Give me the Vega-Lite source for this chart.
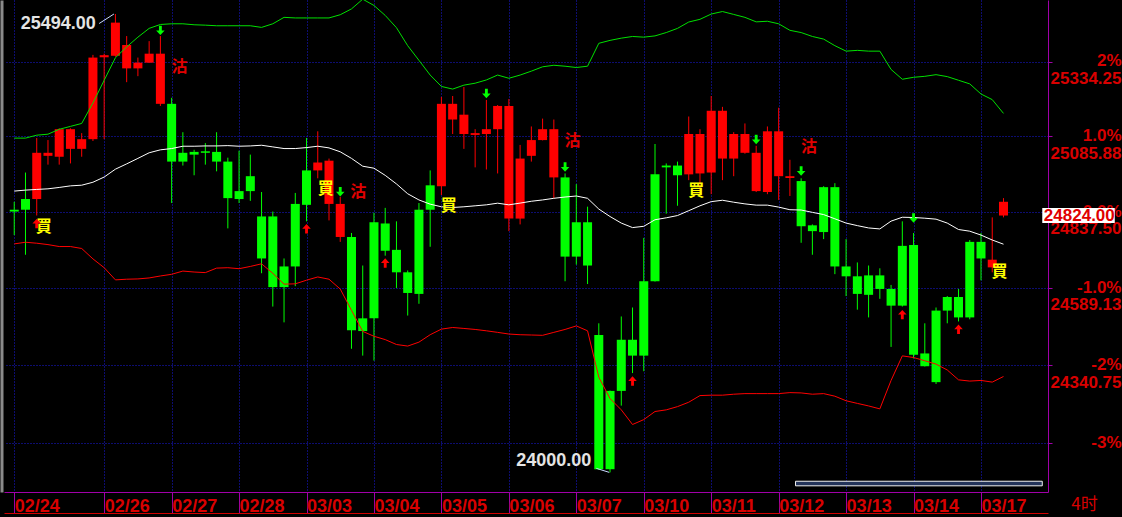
{
"$schema": "https://vega.github.io/schema/vega-lite/v6.json",
"width": 1044, "height": 492,
"autosize": {"type": "none"},
"padding": {"left": 4, "top": 0, "right": 74, "bottom": 25},
"background": "#000000",
"config": {"view": {"stroke": null}},
"datasets": {
"candles": [
{"i":0,"o":24845,"h":24871,"l":24762,"c":24839},
{"i":1,"o":24880,"h":24967,"l":24698,"c":24845},
{"i":2,"o":24880,"h":25081,"l":24826,"c":25032},
{"i":3,"o":25022,"h":25074,"l":24993,"c":25032},
{"i":4,"o":25019,"h":25113,"l":24993,"c":25110},
{"i":5,"o":25045,"h":25113,"l":24997,"c":25110},
{"i":6,"o":25045,"h":25097,"l":25019,"c":25077},
{"i":7,"o":25077,"h":25357,"l":25071,"c":25348},
{"i":8,"o":25349,"h":25361,"l":25077,"c":25356},
{"i":9,"o":25354,"h":25494,"l":25351,"c":25465},
{"i":10,"o":25312,"h":25420,"l":25266,"c":25390},
{"i":11,"o":25312,"h":25348,"l":25286,"c":25331},
{"i":12,"o":25331,"h":25403,"l":25330,"c":25361},
{"i":13,"o":25194,"h":25420,"l":25187,"c":25361},
{"i":14,"o":25194,"h":25214,"l":24867,"c":25003},
{"i":15,"o":25032,"h":25100,"l":24990,"c":25003},
{"i":16,"o":25035,"h":25042,"l":24958,"c":25026},
{"i":17,"o":25037,"h":25064,"l":24993,"c":25032},
{"i":18,"o":25035,"h":25100,"l":24971,"c":25003},
{"i":19,"o":25003,"h":25016,"l":24784,"c":24883},
{"i":20,"o":24906,"h":25039,"l":24867,"c":24880},
{"i":21,"o":24955,"h":25026,"l":24874,"c":24906},
{"i":22,"o":24823,"h":24903,"l":24638,"c":24686},
{"i":23,"o":24823,"h":24839,"l":24530,"c":24593},
{"i":24,"o":24660,"h":24686,"l":24479,"c":24593},
{"i":25,"o":24864,"h":24900,"l":24596,"c":24660},
{"i":26,"o":24974,"h":25081,"l":24807,"c":24861},
{"i":27,"o":24974,"h":25103,"l":24948,"c":25000},
{"i":28,"o":24864,"h":25013,"l":24810,"c":25006},
{"i":29,"o":24756,"h":24887,"l":24740,"c":24864},
{"i":30,"o":24756,"h":24769,"l":24394,"c":24454},
{"i":31,"o":24492,"h":24663,"l":24372,"c":24451},
{"i":32,"o":24804,"h":24835,"l":24356,"c":24492},
{"i":33,"o":24800,"h":24851,"l":24695,"c":24711},
{"i":34,"o":24714,"h":24807,"l":24590,"c":24641},
{"i":35,"o":24641,"h":24647,"l":24501,"c":24574},
{"i":36,"o":24845,"h":24867,"l":24539,"c":24571},
{"i":37,"o":24925,"h":24974,"l":24724,"c":24845},
{"i":38,"o":24922,"h":25217,"l":24893,"c":25194},
{"i":39,"o":25142,"h":25220,"l":25094,"c":25194},
{"i":40,"o":25094,"h":25250,"l":25045,"c":25158},
{"i":41,"o":25091,"h":25110,"l":24984,"c":25097},
{"i":42,"o":25094,"h":25207,"l":24977,"c":25110},
{"i":43,"o":25110,"h":25190,"l":24964,"c":25187},
{"i":44,"o":24816,"h":25210,"l":24775,"c":25187},
{"i":45,"o":24816,"h":25058,"l":24797,"c":25013},
{"i":46,"o":25022,"h":25119,"l":25003,"c":25074},
{"i":47,"o":25074,"h":25145,"l":25073,"c":25110},
{"i":48,"o":24951,"h":25142,"l":24883,"c":25110},
{"i":49,"o":24951,"h":24964,"l":24612,"c":24692},
{"i":50,"o":24804,"h":24929,"l":24666,"c":24692},
{"i":51,"o":24804,"h":24855,"l":24603,"c":24663},
{"i":52,"o":24438,"h":24476,"l":24008,"c":24010},
{"i":53,"o":24259,"h":24260,"l":24000,"c":24010},
{"i":54,"o":24423,"h":24498,"l":24212,"c":24259},
{"i":55,"o":24423,"h":24527,"l":24316,"c":24372},
{"i":56,"o":24612,"h":24753,"l":24322,"c":24372},
{"i":57,"o":24961,"h":25061,"l":24611,"c":24612},
{"i":58,"o":24990,"h":24997,"l":24832,"c":24984},
{"i":59,"o":24990,"h":25003,"l":24858,"c":24958},
{"i":60,"o":24961,"h":25152,"l":24942,"c":25094},
{"i":61,"o":24964,"h":25110,"l":24896,"c":25094},
{"i":62,"o":24967,"h":25220,"l":24896,"c":25171},
{"i":63,"o":25013,"h":25184,"l":24942,"c":25171},
{"i":64,"o":25013,"h":25100,"l":24955,"c":25094},
{"i":65,"o":25032,"h":25129,"l":25029,"c":25094},
{"i":66,"o":24906,"h":25055,"l":24903,"c":25032},
{"i":67,"o":24903,"h":25119,"l":24896,"c":25103},
{"i":68,"o":24955,"h":25181,"l":24877,"c":25103},
{"i":69,"o":24949,"h":25009,"l":24890,"c":24955},
{"i":70,"o":24939,"h":24948,"l":24737,"c":24791},
{"i":71,"o":24794,"h":24797,"l":24698,"c":24775},
{"i":72,"o":24919,"h":24922,"l":24749,"c":24772},
{"i":73,"o":24919,"h":24932,"l":24635,"c":24660},
{"i":74,"o":24660,"h":24749,"l":24564,"c":24628},
{"i":75,"o":24628,"h":24673,"l":24520,"c":24571},
{"i":76,"o":24631,"h":24663,"l":24495,"c":24568},
{"i":77,"o":24631,"h":24654,"l":24555,"c":24587},
{"i":78,"o":24587,"h":24600,"l":24400,"c":24533},
{"i":79,"o":24727,"h":24807,"l":24530,"c":24533},
{"i":80,"o":24730,"h":24769,"l":24363,"c":24375},
{"i":81,"o":24379,"h":24476,"l":24337,"c":24338},
{"i":82,"o":24517,"h":24527,"l":24281,"c":24287},
{"i":83,"o":24561,"h":24564,"l":24476,"c":24517},
{"i":84,"o":24561,"h":24587,"l":24482,"c":24495},
{"i":85,"o":24740,"h":24746,"l":24489,"c":24495},
{"i":86,"o":24740,"h":24769,"l":24615,"c":24686},
{"i":87,"o":24657,"h":24820,"l":24641,"c":24682},
{"i":88,"o":24826,"h":24883,"l":24820,"c":24871}
],
"bands": [
{"i":0,"u":25080.5,"m":24906.0,"lo":24733.4},
{"i":1,"u":25080.5,"m":24909.3,"lo":24738.8},
{"i":2,"u":25090.2,"m":24911.5,"lo":24735.6},
{"i":3,"u":25093.5,"m":24913.5,"lo":24731.1},
{"i":4,"u":25109.6,"m":24918.0,"lo":24724.8},
{"i":5,"u":25119.3,"m":24923.2,"lo":24724.8},
{"i":6,"u":25129.0,"m":24925.4,"lo":24718.4},
{"i":7,"u":25197.0,"m":24935.1,"lo":24684.6},
{"i":8,"u":25272.4,"m":24952.2,"lo":24655.9},
{"i":9,"u":25347.6,"m":24978.1,"lo":24616.4},
{"i":10,"u":25383.6,"m":24995.5,"lo":24618.6},
{"i":11,"u":25416.3,"m":25013.6,"lo":24619.5},
{"i":12,"u":25445.7,"m":25032.1,"lo":24622.7},
{"i":13,"u":25458.8,"m":25041.8,"lo":24629.1},
{"i":14,"u":25461.1,"m":25046.0,"lo":24634.5},
{"i":15,"u":25461.1,"m":25053.7,"lo":24645.0},
{"i":16,"u":25457.8,"m":25053.7,"lo":24641.9},
{"i":17,"u":25456.5,"m":25054.7,"lo":24640.0},
{"i":18,"u":25454.5,"m":25054.7,"lo":24654.6},
{"i":19,"u":25454.5,"m":25055.7,"lo":24655.9},
{"i":20,"u":25454.5,"m":25053.7,"lo":24652.7},
{"i":21,"u":25454.5,"m":25054.7,"lo":24660.0},
{"i":22,"u":25449.0,"m":25056.9,"lo":24668.6},
{"i":23,"u":25461.1,"m":25051.5,"lo":24637.7},
{"i":24,"u":25482.7,"m":25046.0,"lo":24602.6},
{"i":25,"u":25480.7,"m":25046.0,"lo":24603.6},
{"i":26,"u":25480.7,"m":25049.2,"lo":24615.4},
{"i":27,"u":25480.7,"m":25053.7,"lo":24625.9},
{"i":28,"u":25480.7,"m":25048.2,"lo":24618.6},
{"i":29,"u":25491.5,"m":25035.3,"lo":24586.7},
{"i":30,"u":25511.1,"m":25013.6,"lo":24518.0},
{"i":31,"u":25543.8,"m":24987.8,"lo":24449.9},
{"i":32,"u":25522.6,"m":24981.3,"lo":24434.2},
{"i":33,"u":25489.2,"m":24957.7,"lo":24423.5},
{"i":34,"u":25448.0,"m":24929.6,"lo":24407.7},
{"i":35,"u":25387.8,"m":24897.3,"lo":24402.7},
{"i":36,"u":25338.8,"m":24877.0,"lo":24415.3},
{"i":37,"u":25289.7,"m":24863.2,"lo":24439.2},
{"i":38,"u":25251.8,"m":24854.6,"lo":24457.2},
{"i":39,"u":25243.0,"m":24852.3,"lo":24462.5},
{"i":40,"u":25256.1,"m":24854.6,"lo":24459.4},
{"i":41,"u":25262.6,"m":24857.8,"lo":24456.2},
{"i":42,"u":25273.4,"m":24861.0,"lo":24451.8},
{"i":43,"u":25289.7,"m":24866.4,"lo":24446.8},
{"i":44,"u":25279.0,"m":24861.0,"lo":24441.4},
{"i":45,"u":25289.7,"m":24866.7,"lo":24439.2},
{"i":46,"u":25302.8,"m":24872.7,"lo":24438.3},
{"i":47,"u":25317.2,"m":24877.0,"lo":24437.3},
{"i":48,"u":25322.4,"m":24882.4,"lo":24446.8},
{"i":49,"u":25319.2,"m":24886.6,"lo":24456.2},
{"i":50,"u":25314.9,"m":24889.9,"lo":24467.6},
{"i":51,"u":25319.2,"m":24882.4,"lo":24451.8},
{"i":52,"u":25395.7,"m":24847.2,"lo":24302.9},
{"i":53,"u":25405.5,"m":24822.7,"lo":24234.6},
{"i":54,"u":25413.0,"m":24801.3,"lo":24198.5},
{"i":55,"u":25418.6,"m":24786.6,"lo":24151.8},
{"i":56,"u":25416.3,"m":24790.8,"lo":24167.4},
{"i":57,"u":25420.5,"m":24812.2,"lo":24193.2},
{"i":58,"u":25431.7,"m":24818.5,"lo":24198.5},
{"i":59,"u":25445.7,"m":24825.9,"lo":24208.8},
{"i":60,"u":25467.0,"m":24841.8,"lo":24222.8},
{"i":61,"u":25476.1,"m":24857.8,"lo":24244.0},
{"i":62,"u":25493.8,"m":24871.5,"lo":24245.3},
{"i":63,"u":25502.3,"m":24876.0,"lo":24245.3},
{"i":64,"u":25492.5,"m":24869.6,"lo":24248.4},
{"i":65,"u":25482.7,"m":24864.1,"lo":24250.3},
{"i":66,"u":25467.6,"m":24860.0,"lo":24250.3},
{"i":67,"u":25469.6,"m":24860.0,"lo":24250.3},
{"i":68,"u":25461.1,"m":24853.6,"lo":24250.3},
{"i":69,"u":25439.2,"m":24845.0,"lo":24253.5},
{"i":70,"u":25431.7,"m":24844.0,"lo":24252.5},
{"i":71,"u":25418.6,"m":24836.4,"lo":24248.4},
{"i":72,"u":25409.8,"m":24829.1,"lo":24250.3},
{"i":73,"u":25387.8,"m":24815.3,"lo":24242.1},
{"i":74,"u":25369.5,"m":24801.3,"lo":24227.5},
{"i":75,"u":25372.1,"m":24793.0,"lo":24219.1},
{"i":76,"u":25369.5,"m":24785.4,"lo":24211.0},
{"i":77,"u":25369.5,"m":24782.2,"lo":24201.6},
{"i":78,"u":25308.4,"m":24807.7,"lo":24292.5},
{"i":79,"u":25275.7,"m":24820.4,"lo":24371.2},
{"i":80,"u":25282.2,"m":24819.5,"lo":24365.9},
{"i":81,"u":25285.5,"m":24817.3,"lo":24355.5},
{"i":82,"u":25291.0,"m":24814.1,"lo":24344.8},
{"i":83,"u":25284.5,"m":24801.3,"lo":24325.9},
{"i":84,"u":25272.4,"m":24780.3,"lo":24294.4},
{"i":85,"u":25260.3,"m":24774.8,"lo":24290.4},
{"i":86,"u":25226.6,"m":24762.1,"lo":24292.5},
{"i":87,"u":25208.0,"m":24746.1,"lo":24287.1},
{"i":88,"u":25162.3,"m":24732.4,"lo":24305.1}
],
"down": [{"i":13,"p":25439},{"i":29,"p":24904},{"i":42,"p":25228},{"i":49,"p":24985},{"i":66,"p":25076},{"i":70,"p":24972},{"i":80,"p":24818}],
"up": [{"i":2,"p":24800},{"i":26,"p":24783},{"i":33,"p":24671},{"i":55,"p":24291},{"i":79,"p":24504},{"i":84,"p":24457}],
"buy": [{"i":2.62,"p":24788},{"i":27.7,"p":24912},{"i":38.65,"p":24858},{"i":60.68,"p":24906},{"i":87.64,"p":24642}],
"sell": [{"i":14.69,"p":25318},{"i":30.6,"p":24903},{"i":49.66,"p":25071},{"i":70.7,"p":25052}]
},
"layer": [
{
"data": {"name": "candles"},
"mark": {"type": "rule", "strokeWidth": 1},
"encoding": {
"x": {"field": "i", "type": "quantitative", "scale": {"domain": [-0.467, 91.515], "nice": false, "zero": false},
"axis": {"orient": "bottom", "values": [0,8,14,20,26,32,38,44,50,56,62,68,74,80,86],
"labelExpr": "['02/24','02/26','02/27','02/28','03/03','03/04','03/05','03/06','03/07','03/10','03/11','03/12','03/13','03/14','03/17'][indexof([0,8,14,20,26,32,38,44,50,56,62,68,74,80,86], datum.value)]",
"domainColor": "#a000a8", "tickColor": "#a000a8", "tickSize": 21, "grid": true, "gridColor": "#1a1ae0", "gridDash": [1, 2],
"labelColor": "#d80000", "labelFont": "Liberation Sans", "labelFontWeight": "bold", "labelFontSize": 18,
"labelAlign": "left", "labelBaseline": "middle", "labelPadding": -7, "labelOffset": 0,
"labelFlush": false, "labelOverlap": false, "labelBound": false, "title": null}},
"y": {"field": "l", "type": "quantitative", "scale": {"type": "log", "domain": [23953.8, 25524.2], "nice": false, "zero": false},
"axis": {"orient": "right", "values": [25334.25, 25085.875, 24837.5, 24589.125, 24340.75, 24092.375],
"labelExpr": "datum.value > 25300 ? ['2%','25334.25'] : datum.value > 25000 ? ['1.0%','25085.88'] : datum.value > 24800 ? ['0.0%','24837.50'] : datum.value > 24500 ? ['-1.0%','24589.13'] : datum.value > 24200 ? ['-2%','24340.75'] : '-3%'",
"domainColor": "#a000a8", "tickColor": "#a000a8", "tickSize": 4, "grid": true, "gridColor": "#1a1ae0", "gridDash": [1, 2],
"labelColor": "#d80000", "labelFont": "Liberation Sans", "labelFontWeight": "bold", "labelFontSize": 17,
"labelAlign": "right", "labelBaseline": "top", "labelPadding": 69, "labelOffset": -9, "labelLineHeight": 17.7,
"labelFlush": false, "labelOverlap": false, "labelBound": false,
"title": "4时", "titleAngle": 0, "titleX": 36, "titleY": 504, "titleAlign": "center", "titleBaseline": "middle",
"titleColor": "#d80000", "titleFont": "Noto Sans CJK SC", "titleFontSize": 17, "titleFontWeight": "normal"}},
"y2": {"field": "h"},
"color": {"condition": {"test": "datum.c >= datum.o", "value": "#ff0000"}, "value": "#00ff00"}
}
},
{
"data": {"name": "candles"},
"mark": {"type": "bar", "width": 9},
"encoding": {
"x": {"field": "i", "type": "quantitative", "scale": {"domain": [-0.467, 91.515], "nice": false, "zero": false}, "axis": null},
"y": {"field": "o", "type": "quantitative", "scale": {"type": "log", "domain": [23953.8, 25524.2], "nice": false, "zero": false}, "axis": null},
"y2": {"field": "c"},
"color": {"condition": {"test": "datum.c >= datum.o", "value": "#ff0000"}, "value": "#00ff00"}
}
},
{
"data": {"name": "bands"},
"mark": {"type": "line", "color": "#00e000", "strokeWidth": 1, "clip": true},
"encoding": {
"x": {"field": "i", "type": "quantitative", "scale": {"domain": [-0.467, 91.515], "nice": false, "zero": false}, "axis": null},
"y": {"field": "u", "type": "quantitative", "scale": {"type": "log", "domain": [23953.8, 25524.2], "nice": false, "zero": false},
"axis": {"orient": "left", "domainColor": "#8a8a8a", "domainWidth": 3, "offset": 2.5, "ticks": false, "labels": false, "grid": false, "title": null}}
}
},
{
"data": {"name": "bands"},
"mark": {"type": "line", "color": "#ffffff", "strokeWidth": 1, "clip": true},
"encoding": {
"x": {"field": "i", "type": "quantitative", "scale": {"domain": [-0.467, 91.515], "nice": false, "zero": false},
"axis": {"orient": "bottom", "offset": 21, "domainColor": "#d00000", "ticks": false, "labels": false, "grid": false, "title": null}},
"y": {"field": "m", "type": "quantitative", "scale": {"type": "log", "domain": [23953.8, 25524.2], "nice": false, "zero": false}, "axis": null}
}
},
{
"data": {"name": "bands"},
"mark": {"type": "line", "color": "#ff0000", "strokeWidth": 1, "clip": true},
"encoding": {
"x": {"field": "i", "type": "quantitative", "scale": {"domain": [-0.467, 91.515], "nice": false, "zero": false}, "axis": null},
"y": {"field": "lo", "type": "quantitative", "scale": {"type": "log", "domain": [23953.8, 25524.2], "nice": false, "zero": false}, "axis": null}
}
},
{
"data": {"name": "buy"},
"mark": {"type": "text", "text": "買", "font": "Noto Sans CJK TC", "fontWeight": "bold", "fontSize": 16, "color": "#ffff00", "align": "center", "baseline": "middle"},
"encoding": {
"x": {"field": "i", "type": "quantitative", "scale": {"domain": [-0.467, 91.515], "nice": false, "zero": false}, "axis": null},
"y": {"field": "p", "type": "quantitative", "scale": {"type": "log", "domain": [23953.8, 25524.2], "nice": false, "zero": false}, "axis": null}
}
},
{
"data": {"name": "sell"},
"mark": {"type": "text", "text": "沽", "font": "Noto Sans CJK TC", "fontWeight": "bold", "fontSize": 16, "color": "#e00000", "align": "center", "baseline": "middle"},
"encoding": {
"x": {"field": "i", "type": "quantitative", "scale": {"domain": [-0.467, 91.515], "nice": false, "zero": false}, "axis": null},
"y": {"field": "p", "type": "quantitative", "scale": {"type": "log", "domain": [23953.8, 25524.2], "nice": false, "zero": false}, "axis": null}
}
},
{
"data": {"name": "down"},
"mark": {"type": "point", "shape": "M -0.3 -1 L 0.3 -1 L 0.3 0 L 0.9 0 L 0 1 L -0.9 0 L -0.3 0 Z", "filled": true, "size": 90, "color": "#00ff00", "opacity": 1, "strokeWidth": 0},
"encoding": {
"x": {"field": "i", "type": "quantitative", "scale": {"domain": [-0.467, 91.515], "nice": false, "zero": false}, "axis": null},
"y": {"field": "p", "type": "quantitative", "scale": {"type": "log", "domain": [23953.8, 25524.2], "nice": false, "zero": false}, "axis": null}
}
},
{
"data": {"name": "up"},
"mark": {"type": "point", "shape": "M -0.3 1 L 0.3 1 L 0.3 0 L 0.9 0 L 0 -1 L -0.9 0 L -0.3 0 Z", "filled": true, "size": 90, "color": "#ff0000", "opacity": 1, "strokeWidth": 0},
"encoding": {
"x": {"field": "i", "type": "quantitative", "scale": {"domain": [-0.467, 91.515], "nice": false, "zero": false}, "axis": null},
"y": {"field": "p", "type": "quantitative", "scale": {"type": "log", "domain": [23953.8, 25524.2], "nice": false, "zero": false}, "axis": null}
}
},
{
"data": {"values": [{}]},
"mark": {"type": "rule", "color": "#c8d8ff", "strokeWidth": 1},
"encoding": {
"x": {"datum": 7.55, "type": "quantitative", "scale": {"domain": [-0.467, 91.515], "nice": false, "zero": false}, "axis": null},
"x2": {"datum": 8.87},
"y": {"datum": 25462, "type": "quantitative", "scale": {"type": "log", "domain": [23953.8, 25524.2], "nice": false, "zero": false}, "axis": null},
"y2": {"datum": 25494}
}
},
{
"data": {"values": [{}]},
"mark": {"type": "rule", "color": "#c8d8ff", "strokeWidth": 1},
"encoding": {
"x": {"datum": 51.78, "type": "quantitative", "scale": {"domain": [-0.467, 91.515], "nice": false, "zero": false}, "axis": null},
"x2": {"datum": 52.93},
"y": {"datum": 24012.7, "type": "quantitative", "scale": {"type": "log", "domain": [23953.8, 25524.2], "nice": false, "zero": false}, "axis": null},
"y2": {"datum": 24000}
}
},
{
"data": {"values": [{"t": "25494.00", "i": 3.91, "p": 25460}, {"t": "24000.00", "i": 47.99, "p": 24034.5}]},
"mark": {"type": "text", "font": "Liberation Sans", "fontWeight": "bold", "fontSize": 18, "color": "#e4e4e4", "align": "center", "baseline": "middle"},
"encoding": {
"x": {"field": "i", "type": "quantitative", "scale": {"domain": [-0.467, 91.515], "nice": false, "zero": false}, "axis": null},
"y": {"field": "p", "type": "quantitative", "scale": {"type": "log", "domain": [23953.8, 25524.2], "nice": false, "zero": false}, "axis": null},
"text": {"field": "t"}
}
},
{
"data": {"values": [{}]},
"mark": {"type": "rect", "fill": "#24345a", "stroke": "#f0f0f0", "strokeWidth": 1},
"encoding": {
"x": {"datum": 69.5, "type": "quantitative", "scale": {"domain": [-0.467, 91.515], "nice": false, "zero": false}, "axis": null},
"x2": {"datum": 91.45},
"y": {"datum": 23972, "type": "quantitative", "scale": {"type": "log", "domain": [23953.8, 25524.2], "nice": false, "zero": false}, "axis": null},
"y2": {"datum": 23957.5}
}
},
{
"data": {"values": [{}]},
"mark": {"type": "bar", "height": 15, "color": "#ffffff"},
"encoding": {
"x": {"datum": 91.45, "type": "quantitative", "scale": {"domain": [-0.467, 91.515], "nice": false, "zero": false}, "axis": null},
"x2": {"datum": 97.9},
"y": {"datum": 24826, "type": "quantitative", "scale": {"type": "log", "domain": [23953.8, 25524.2], "nice": false, "zero": false}, "axis": null}
}
},
{
"data": {"values": [{"t": "24824.00", "i": 97.9, "p": 24826}]},
"mark": {"type": "text", "font": "Liberation Sans", "fontWeight": "bold", "fontSize": 17, "color": "#e00000", "align": "right", "baseline": "middle", "dx": 0},
"encoding": {
"x": {"field": "i", "type": "quantitative", "scale": {"domain": [-0.467, 91.515], "nice": false, "zero": false}, "axis": null},
"y": {"field": "p", "type": "quantitative", "scale": {"type": "log", "domain": [23953.8, 25524.2], "nice": false, "zero": false}, "axis": null},
"text": {"field": "t"}
}
}
],
"resolve": {"axis": {"x": "independent", "y": "independent"}}
}
